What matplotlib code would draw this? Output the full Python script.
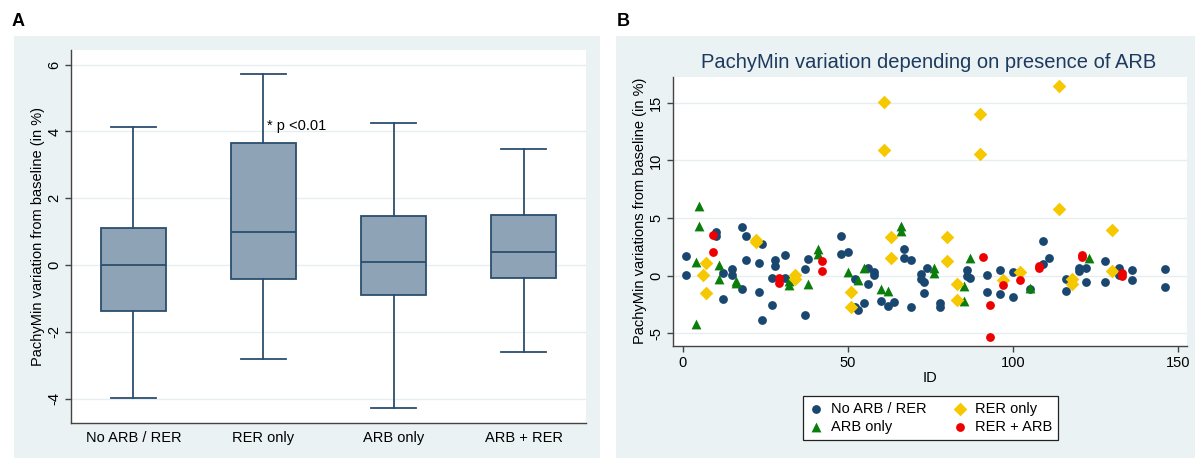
import matplotlib
matplotlib.use("Agg")
import matplotlib.pyplot as plt
from matplotlib.patches import Rectangle

plt.rcParams['font.family'] = ['Liberation Sans', 'DejaVu Sans']

# panel A: box plot summary per group
groups = ["No ARB / RER", "RER only", "ARB only", "ARB + RER"]
whis_hi = [4.14, 5.71, 4.26, 3.47]
q3 = [1.12, 3.66, 1.48, 1.49]
median = [0.0, 0.98, 0.09, 0.39]
q1 = [-1.37, -0.41, -0.89, -0.39]
whis_lo = [-3.97, -2.82, -4.29, -2.60]

# panel B: per-eye values by ID
none_id = [1, 1, 10, 10, 12, 12, 15, 15, 18, 19, 19, 18, 24, 23, 23, 24, 27, 27, 28, 28,
           31, 31, 37, 38, 37, 48, 48, 50, 52, 52, 53, 55, 56, 56, 58, 58, 60, 62, 64, 67,
           67, 69, 69, 72, 72, 73, 73, 74, 78, 78, 86, 86, 87, 92, 92, 96, 96, 100, 100, 105,
           109, 109, 111, 116, 116, 120, 120, 122, 122, 128, 128, 132, 132, 136, 136, 146, 146]
none_val = [1.70, 0.04, 3.75, 3.43, 0.25, -2.01, 0.54, 0.04, 4.19, 3.43, 1.32, -1.2, 2.71, 1.12,
            -1.41, -3.9, -0.19, -2.57, 1.32, 0.86, 1.78, -0.19, 0.57, 1.41, -3.43, 3.43, 1.87,
            2.07, -0.33, -2.71, -3.0, -2.39, 0.68, -0.74, 0.33, 0.04, -2.19, -2.65, -2.33, 2.3,
            1.49, 1.35, -2.77, 0.13, -0.28, -0.54, -1.49, 0.62, -2.42, -2.77, 0.5, 0.0, -0.2,
            0.04, -1.41, 0.48, -1.64, -1.84, 0.33, -1.2, 3.03, 0.97, 1.55, -0.33, -1.38, 0.68,
            0.39, 0.68, -0.59, 1.26, -0.59, 0.68, 0.04, 0.48, -0.39, 0.54, -0.97]
arb_id = [5, 5, 4, 4, 11, 11, 16, 16, 32, 32, 38, 41, 41, 50, 53, 55, 60, 62, 66, 66,
          76, 76, 85, 85, 87, 105, 123]
arb_val = [6.07, 4.33, 1.17, -4.22, 0.88, -0.33, -0.48, -0.68, -0.48, -0.83, -0.74, 2.28, 1.87,
           0.28, -0.39, 0.68, -1.2, -1.32, 4.33, 3.9, 0.62, 0.19, -0.91, -2.19, 1.55, -1.12, 1.55]
rer_id = [7, 6, 7, 22, 22, 34, 34, 51, 51, 61, 61, 63, 63, 80, 80, 83, 83, 90, 90, 97,
          102, 114, 114, 118, 118, 130, 130]
rer_val = [1.12, 0.04, -1.49, 3.1, 2.9, 0.04, -0.3, -1.43, -2.77, 15.12, 10.91, 3.32, 1.49,
           3.38, 1.26, -0.74, -2.13, 14.04, 10.57, -0.39, 0.28, 16.48, 5.75, -0.33, -0.74,
           3.96, 0.42]
both_id = [9, 9, 29, 29, 42, 42, 91, 93, 93, 97, 102, 108, 108, 121, 121, 133, 133]
both_val = [3.52, 2.04, -0.19, -0.68, 1.29, 0.42, 1.58, -2.57, -5.32, -0.83, -0.36, 0.86,
            0.68, 1.78, 1.58, 0.25, -0.01]

W, H = 1195, 459
bg = '#eaf2f3'
navy = '#1a476f'
axcol = '#444444'

fig = plt.figure(figsize=(W / 100, H / 100), dpi=100)
fig.patch.set_facecolor('white')

# light panel backgrounds, kept behind the axes
fig.patches.append(Rectangle((14 / W, 1 - 458 / H), 586 / W, 422 / H,
                             transform=fig.transFigure, facecolor=bg, edgecolor='none', zorder=-5))
fig.patches.append(Rectangle((616 / W, 1 - 458 / H), 579 / W, 422 / H,
                             transform=fig.transFigure, facecolor=bg, edgecolor='none', zorder=-5))


def px_axes(l, t, r, b):
    return fig.add_axes([l / W, 1 - b / H, (r - l) / W, (b - t) / H])


def style(ax):
    ax.set_facecolor('white')
    for s in ['top', 'right']:
        ax.spines[s].set_visible(False)
    for s in ['left', 'bottom']:
        ax.spines[s].set_color(axcol)
        ax.spines[s].set_linewidth(1.0)
    ax.yaxis.grid(True, color='#e6eef0', linewidth=1.0)
    ax.set_axisbelow(True)


# ---- panel A
axA = px_axes(71, 50, 586, 423)
style(axA)
stats = []
for i in range(len(groups)):
    stats.append(dict(med=median[i], q1=q1[i], q3=q3[i],
                      whislo=whis_lo[i], whishi=whis_hi[i], fliers=[]))
line = dict(color='#2b4e6e', linewidth=1.3)
axA.bxp(stats, positions=range(1, 5), widths=0.5, capwidths=0.34, patch_artist=True,
        showfliers=False,
        boxprops=dict(facecolor='#8fa3b6', edgecolor='#2b4e6e', linewidth=1.3),
        medianprops=line, whiskerprops=line, capprops=line)
axA.set_xlim(0.52, 4.48)
axA.set_ylim(-4.73, 6.44)
axA.set_yticks([-4, -2, 0, 2, 4, 6])
axA.set_yticklabels(['-4', '-2', '0', '2', '4', '6'], rotation=90, va='center')
axA.set_xticks(range(1, 5))
axA.set_xticklabels(groups)
axA.tick_params(axis='x', length=0, pad=6, labelsize=10.5)
axA.tick_params(axis='y', length=4, width=1, color=axcol, pad=3, labelsize=10.5)
axA.text(2.03, 4.15, '* p <0.01', fontsize=10.5, va='center', ha='left')

fig.text(12 / W, 1 - 21 / H, 'A', fontsize=13, fontweight='bold', va='center', ha='left')
fig.text(38 / W, 1 - 237 / H, 'PachyMin variation from baseline (in %)', rotation=90,
         fontsize=10.5, va='center', ha='center')

# ---- panel B
axB = px_axes(673, 77, 1187, 346)
style(axB)
axB.scatter(none_id, none_val, s=40, marker='o', color=navy, linewidths=0, label='No ARB / RER')
axB.scatter(arb_id, arb_val, s=50, marker='^', color='#0a7d0a', linewidths=0, label='ARB only')
axB.scatter(rer_id, rer_val, s=48, marker='D', color='#f5c800', linewidths=0, label='RER only')
axB.scatter(both_id, both_val, s=40, marker='o', color='#ee0000', linewidths=0, label='RER + ARB')
axB.set_xlim(-3.0, 152.7)
axB.set_ylim(-6.13, 17.26)
axB.set_xticks([0, 50, 100, 150])
axB.set_yticks([-5, 0, 5, 10, 15])
axB.set_yticklabels(['-5', '0', '5', '10', '15'], rotation=90, va='center')
axB.tick_params(axis='both', length=4, width=1, color=axcol, pad=3, labelsize=10.5)

fig.text(617 / W, 1 - 21 / H, 'B', fontsize=13, fontweight='bold', va='center', ha='left')
fig.text(929 / W, 1 - 63 / H, 'PachyMin variation depending on presence of ARB',
         fontsize=14.5, color='#1e3a5f', va='center', ha='center')
fig.text(640 / W, 1 - 211 / H, 'PachyMin variations from baseline (in %)', rotation=90,
         fontsize=10.5, va='center', ha='center')
fig.text(930 / W, 1 - 378 / H, 'ID', fontsize=10.5, va='center', ha='center')

h, l = axB.get_legend_handles_labels()
leg = fig.legend(h, l, ncol=2, loc='center', bbox_to_anchor=(930.5 / W, 1 - 418 / H),
                 fontsize=10.5, frameon=True, fancybox=False, edgecolor='#222222',
                 framealpha=1, handlelength=1.0, handletextpad=0.5, columnspacing=1.8,
                 borderpad=0.4, labelspacing=0.3, scatterpoints=1, markerscale=1.0)
leg.get_frame().set_linewidth(0.9)

fig.savefig('out.png', dpi=100, facecolor='white')
